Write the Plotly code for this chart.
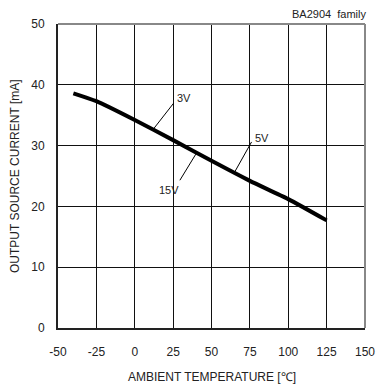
import plotly.graph_objects as go

temps = [-40, -25, 0, 25, 50, 75, 100, 125]
current = [38.6, 37.3, 34.2, 30.9, 27.5, 24.2, 21.2, 17.7]

x_ticks = [-50, -25, 0, 25, 50, 75, 100, 125, 150]
y_ticks = [0, 10, 20, 30, 40, 50]

labels = ["3V", "5V", "15V"]
label_text_pos = [(26.5, 37.9), (77.3, 31.3), (30.0, 22.7)]
leader_start = [(25.4, 37.0), (76.1, 30.6), (29.4, 24.3)]
leader_end = [(12.4, 32.8), (65.2, 25.7), (39.8, 28.6)]

FONT = "Liberation Sans, Arial, sans-serif"

fig = go.Figure()
fig.add_trace(go.Scatter(x=temps, y=current, mode="lines",
                         line=dict(color="black", width=4, shape="spline", smoothing=0.6),
                         showlegend=False, hoverinfo="skip"))

for (x0, y0), (x1, y1) in zip(leader_start, leader_end):
    fig.add_trace(go.Scatter(x=[x0, x1], y=[y0, y1], mode="lines",
                             line=dict(color="black", width=1),
                             showlegend=False, hoverinfo="skip"))

anchors = ["left", "left", "right"]
for lab, (tx, ty), anc in zip(labels, label_text_pos, anchors):
    fig.add_annotation(x=tx, y=ty, text=lab, showarrow=False, xanchor=anc, yanchor="middle",
                       font=dict(size=11, color="#222", family=FONT))

fig.update_xaxes(range=[-50, 150], tickvals=x_ticks, ticktext=[str(v) for v in x_ticks],
                 showgrid=True, gridcolor="#111", gridwidth=1, zeroline=False,
                 showline=True, linecolor="#222", linewidth=2, automargin=False,
                 ticks="", ticklabelstandoff=12,
                 tickfont=dict(size=12, color="#222", family=FONT))
fig.update_yaxes(range=[0, 50], tickvals=y_ticks,
                 showgrid=True, gridcolor="#111", gridwidth=1, zeroline=False,
                 showline=True, linecolor="#222", linewidth=2, automargin=False,
                 ticks="", ticklabelstandoff=9,
                 tickfont=dict(size=12, color="#222", family=FONT))

# gray top and right borders
fig.add_shape(type="line", xref="paper", yref="paper", x0=0, x1=1, y0=1, y1=1,
              line=dict(color="#888", width=2))
fig.add_shape(type="line", xref="paper", yref="paper", x0=1, x1=1, y0=0, y1=1,
              line=dict(color="#888", width=2))

fig.add_annotation(xref="paper", yref="paper", x=1.01, y=1.0, yshift=2, text="BA2904  family",
                   showarrow=False, xanchor="right", yanchor="bottom",
                   font=dict(size=11, color="#222", family=FONT))
fig.add_annotation(xref="paper", yref="paper", x=0.5, y=0, yshift=-49,
                   text="AMBIENT TEMPERATURE [℃]", showarrow=False,
                   xanchor="center", yanchor="middle",
                   font=dict(size=12, color="#222", family=FONT))
fig.add_annotation(xref="paper", yref="paper", x=0, xshift=-43, y=0.5,
                   text="OUTPUT SOURCE CURRENT [mA]", showarrow=False, textangle=-90,
                   xanchor="center", yanchor="middle",
                   font=dict(size=12, color="#222", family=FONT))

fig.update_layout(width=377, height=387,
                  margin=dict(l=58, r=12, t=24, b=59),
                  plot_bgcolor="white", paper_bgcolor="white")

fig.write_html("out.html", config={"displayModeBar": False},
               post_script="document.body.style.margin='0';document.body.style.overflow='hidden';")
